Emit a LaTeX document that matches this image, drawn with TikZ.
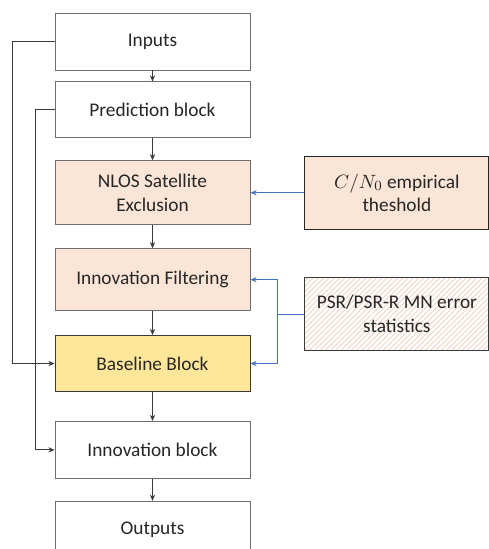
\documentclass[tikz,border=0pt]{standalone}
\usepackage{fontspec}
\setmainfont{Carlito}
\usepackage{xcolor}
\definecolor{peach100}{HTML}{FBE5D6}
\definecolor{gold200}{HTML}{FFE699}
\definecolor{gray600}{HTML}{6F6F6F}
\definecolor{gray800}{HTML}{3A3A3A}
\definecolor{ink900}{HTML}{262626}
\definecolor{blue500}{HTML}{4472C4}
\definecolor{hatch300}{HTML}{F2CDBB}
\usepackage{tikz}
\usetikzlibrary{arrows.meta, positioning, patterns}

\begin{document}
\begin{tikzpicture}[
        font=\fontsize{11}{13.5}\selectfont,
        block/.style={draw=gray600, rectangle, minimum width=3.9cm, minimum height=1.14cm, align=center, fill=white, text=ink900, line width=0.5pt},
        side/.style={draw=ink900, rectangle, minimum width=3.68cm, minimum height=1.45cm, align=center, text=ink900, line width=0.5pt},
        wire/.style={-{Stealth[length=3.5pt, width=3pt]}, draw=gray800, line width=0.5pt},
        link/.style={-{Stealth[length=3.5pt, width=3pt]}, draw=blue500, line width=0.5pt}
    ]
        \useasboundingbox (0,0) rectangle (9.76,-10.98);

        % Main chain
        \node[block] (inputs) at (3.05,-0.83) {Inputs};
        \node[block, below=0.22cm of inputs, minimum height=1.12cm] (pred) {Prediction block};
        \node[block, fill=peach100, below=0.44cm of pred, minimum height=1.28cm] (nlos) {NLOS Satellite\\Exclusion};
        \node[block, fill=peach100, below=0.46cm of nlos, minimum height=1.24cm] (filt) {Innovation Filtering};
        \node[block, fill=gold200, draw=gray800, below=0.48cm of filt, minimum height=1.12cm] (base) {Baseline Block};
        \node[block, below=0.58cm of base] (innov) {Innovation block};
        \node[block, below=0.44cm of innov] (outputs) {Outputs};

        % Side inputs
        \node[side, fill=peach100, right=1.08cm of nlos] (cn0) {$C/N_0$ empirical\\theshold};
        \node[side, draw=gray800, preaction={fill=white}, pattern=north east lines, pattern color=hatch300, below=0.96cm of cn0] (psr) {PSR/PSR-R MN error\\statistics};

        % Chain arrows
        \draw[wire] (inputs) -- (pred);
        \draw[wire] (pred) -- (nlos);
        \draw[wire] (nlos) -- (filt);
        \draw[wire] (filt) -- (base);
        \draw[wire] (base) -- (innov);
        \draw[wire] (innov) -- (outputs);

        % Bypass lines on the left
        \draw[wire] (inputs.west) -- ++(-0.84,0) |- (base.west);
        \draw[wire] (pred.west) -- ++(-0.38,0) |- (innov.west);

        % Blue feeds
        \draw[link] (cn0.west) -- (nlos.east);
        \draw[link] (psr.west) -- ++(-0.54,0) coordinate (psrj) |- (filt.east);
        \draw[link] (psrj) |- (base.east);
    \end{tikzpicture}
\end{document}
